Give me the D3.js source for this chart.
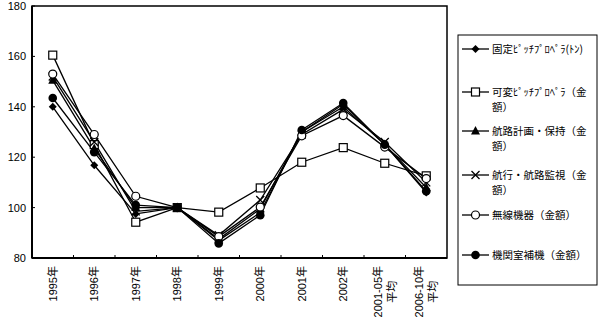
<!DOCTYPE html>
<html><head><meta charset="utf-8">
<script src="https://cdn.jsdelivr.net/npm/d3@7"></script>
<style>body{margin:0;background:#fff}svg{display:block}text{font-family:"Liberation Sans","Noto Sans CJK JP",sans-serif;fill:#000}text.leg{font-family:"Noto Sans CJK JP",sans-serif}</style>
</head><body>
<svg id="c" width="600" height="323"></svg>
<script>
const categories = ["1995年","1996年","1997年","1998年","1999年","2000年","2001年","2002年","2001-05年\n平均","2006-10年\n平均"];
const yTicks = [80,100,120,140,160,180];
const seriesNames = ["固定ﾋﾟｯﾁﾌﾟﾛﾍﾟﾗ(ﾄﾝ)","可変ﾋﾟｯﾁﾌﾟﾛﾍﾟﾗ（金\n額）","航路計画・保持（金\n額）","航行・航路監視（金\n額）","無線機器（金額）","機関室補機（金額）"];
const markers = ["diamond","square","triangle","cross","circle","dot"];
const fixedPitch = [140,116.8,97.5,100,87,98,130,141,125,106];
const variablePitch = [160.5,125,94.2,100,98.2,107.8,118,123.8,117.6,112.6];
const routePlan = [150.5,123.5,100,100,87.5,99.5,130,140,125,108];
const navMonitor = [152,126,98.5,100,89,103,129,139,126,110];
const radio = [153,129,104.5,100,88.5,100.2,128.5,136.5,124,111.5];
const engineRoom = [143.5,122,101,100,85.8,97,130.8,141.5,125,106.5];
const seriesValues = [fixedPitch,variablePitch,routePlan,navMonitor,radio,engineRoom];

const svg = d3.select("#c");
const L=32,R=447,T=6,B=258;
const x = d3.scaleBand().domain(categories).range([L,R]).padding(0);
const y = d3.scaleLinear().domain([80,180]).range([B,T]);
const cx = c => x(c)+x.bandwidth()/2;

// frame
svg.append("rect").attr("x",L).attr("y",T).attr("width",R-L).attr("height",B-T)
  .attr("fill","none").attr("stroke","#000").attr("stroke-width",1.5);
svg.append("line").attr("x1",L).attr("x2",L).attr("y1",T).attr("y2",B).attr("stroke","#000").attr("stroke-width",2);
svg.append("line").attr("x1",L).attr("x2",R).attr("y1",B).attr("y2",B).attr("stroke","#000").attr("stroke-width",2);

// y ticks
yTicks.forEach(t=>{
  svg.append("line").attr("x1",L).attr("x2",L+3).attr("y1",y(t)).attr("y2",y(t)).attr("stroke","#000");
  svg.append("text").attr("x",26).attr("y",y(t)+4).attr("text-anchor","end").attr("font-size",11).text(t);
});
// x ticks at boundaries
categories.forEach((c,i)=>{
  if(i>0) svg.append("line").attr("x1",x(c)).attr("x2",x(c)).attr("y1",B).attr("y2",B-3).attr("stroke","#000");
});
// x labels
categories.forEach(c=>{
  const lines = c.split("\n");
  const g = svg.append("g").attr("transform",`translate(${cx(c)},${B+8}) rotate(-90)`);
  if(lines.length===1){
    g.append("text").attr("x",0).attr("y",4).attr("text-anchor","end").attr("font-size",11).text(lines[0]);
  } else {
    const t1 = g.append("text").attr("x",0).attr("y",-3).attr("text-anchor","end").attr("font-size",11).text(lines[0]);
    const w = t1.node().getComputedTextLength();
    g.append("text").attr("x",-w/2).attr("y",11).attr("text-anchor","middle").attr("font-size",11).text(lines[1]);
  }
});

function drawMarker(g, type, px, py){
  const s = 4;
  if(type==="diamond") g.append("path").attr("d",`M${px},${py-s}L${px+s},${py}L${px},${py+s}L${px-s},${py}Z`).attr("fill","#000");
  else if(type==="square") g.append("rect").attr("x",px-4).attr("y",py-4).attr("width",8).attr("height",8).attr("fill","#fff").attr("stroke","#000").attr("stroke-width",1.2);
  else if(type==="triangle") g.append("path").attr("d",`M${px},${py-5}L${px+4.5},${py+3.5}L${px-4.5},${py+3.5}Z`).attr("fill","#000");
  else if(type==="cross") g.append("path").attr("d",`M${px-4},${py-4}L${px+4},${py+4}M${px-4},${py+4}L${px+4},${py-4}`).attr("stroke","#000").attr("stroke-width",1.3);
  else if(type==="circle") g.append("circle").attr("cx",px).attr("cy",py).attr("r",4).attr("fill","#fff").attr("stroke","#000").attr("stroke-width",1.2);
  else if(type==="dot") g.append("circle").attr("cx",px).attr("cy",py).attr("r",4.3).attr("fill","#000");
}

const line = d3.line().x((d,i)=>cx(categories[i])).y(d=>y(d));
seriesValues.forEach((vals,k)=>{
  svg.append("path").datum(vals).attr("d",line).attr("fill","none").attr("stroke","#000").attr("stroke-width",1.3);
});
seriesValues.forEach((vals,k)=>{
  const g = svg.append("g");
  vals.forEach((v,i)=>drawMarker(g,markers[k],cx(categories[i]),y(v)));
});

// legend
svg.append("rect").attr("x",458).attr("y",35).attr("width",139).attr("height",250)
  .attr("fill","#fff").attr("stroke","#000").attr("stroke-width",1);
const legY = [49,92,131,175,215,255];
seriesNames.forEach((n,k)=>{
  const ly = legY[k];
  svg.append("line").attr("x1",462).attr("x2",489).attr("y1",ly).attr("y2",ly).attr("stroke","#000").attr("stroke-width",1.3);
  drawMarker(svg.append("g"),markers[k],475.5,ly);
  n.split("\n").forEach((s,j)=>{
    svg.append("text").attr("class","leg").attr("x",492).attr("y",ly+3.5+j*15.5).attr("font-size",10.5).text(s);
  });
});
</script>
</body></html>
